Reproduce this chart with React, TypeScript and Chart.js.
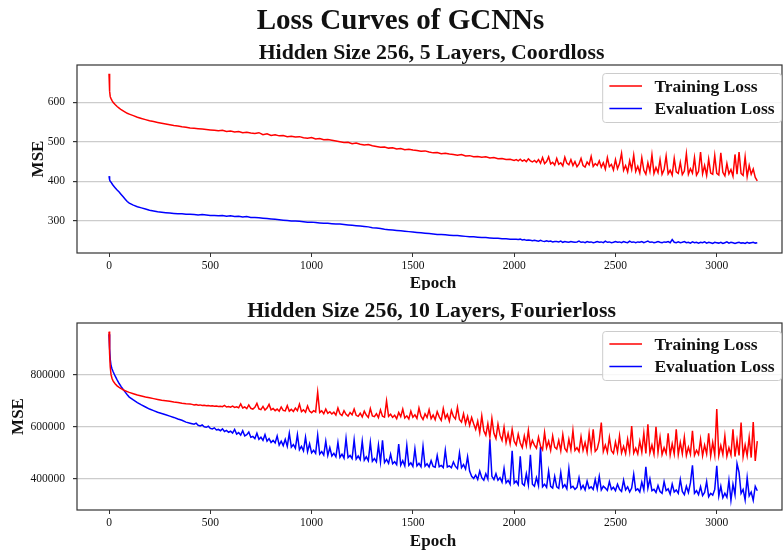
import React, { useEffect, useRef } from "react";
import { Chart, registerables } from "chart.js";

Chart.register(...registerables);

// Epochs at which the 5-layer run was logged
const coordEpochs = [
  0, 3, 6, 10, 15, 20, 30, 40, 50, 60, 70, 80, 90, 100,
  120, 140, 160, 180, 200, 220, 240, 260, 280, 300,
  320, 340, 360, 380, 400, 420, 440, 460, 480, 500,
  520, 540, 560, 580, 600, 620, 640, 660, 680, 700,
  720, 740, 760, 780, 800, 820, 840, 860, 880, 900,
  920, 940, 960, 980, 1000, 1020, 1040, 1060, 1080, 1100,
  1120, 1140, 1160, 1180, 1200, 1220, 1240, 1260, 1280, 1300,
  1320, 1340, 1360, 1380, 1400, 1420, 1440, 1460, 1480, 1500,
  1520, 1540, 1560, 1580, 1600, 1620, 1640, 1660, 1680, 1700,
  1720, 1740, 1760, 1780, 1800, 1820, 1840, 1860, 1880, 1900,
  1920, 1940, 1960, 1980, 2000,
  2010, 2020, 2030, 2040, 2050, 2060, 2070, 2080, 2090, 2100,
  2110, 2120, 2130, 2140, 2150, 2160, 2170, 2180, 2190, 2200,
  2210, 2220, 2230, 2240, 2250, 2260, 2270, 2280, 2290, 2300,
  2310, 2320, 2330, 2340, 2350, 2360, 2370, 2380, 2390, 2400,
  2410, 2420, 2430, 2440, 2450, 2460, 2470, 2480, 2490, 2500,
  2510, 2520, 2530, 2540, 2550, 2560, 2570, 2580, 2590, 2600,
  2610, 2620, 2630, 2640, 2650, 2660, 2670, 2680, 2690, 2700,
  2710, 2720, 2730, 2740, 2750, 2760, 2770, 2780, 2790, 2800,
  2810, 2820, 2830, 2840, 2850, 2860, 2870, 2880, 2890, 2900,
  2910, 2920, 2930, 2940, 2950, 2960, 2970, 2980, 2990, 3000,
  3010, 3020, 3030, 3040, 3050, 3060, 3070, 3080, 3090, 3100,
  3110, 3120, 3130, 3140, 3150, 3160, 3170, 3180, 3190, 3200,
];

// Hidden size 256, 5 layers, coordinate loss
const coordTrain = [
  672, 628, 614, 609, 604, 600, 594, 589, 585, 581, 578, 575, 572, 570,
  566, 562, 559, 556, 553, 551, 549, 547, 545, 543,
  541, 540, 538, 537, 535, 534, 533, 532, 531, 530,
  529, 528, 529, 526, 527, 525, 526, 523, 524, 522,
  521, 523, 518, 520, 516, 518, 515, 516, 513, 514,
  512, 513, 510, 509, 511, 507, 508, 505, 506, 504,
  502, 500, 498, 499, 495, 497, 494, 492, 493, 490,
  488, 486, 487, 484, 485, 482, 483, 480, 481, 479,
  478, 476, 477, 474, 472, 473, 470, 471, 469, 468,
  466, 468, 464, 465, 462, 463, 461, 462, 459, 460,
  457, 458, 455, 456, 453,
  455, 452, 456, 451, 454, 450, 457, 452, 449, 453,
  448, 455, 446, 460, 445, 450, 462, 444, 448, 441,
  458, 443, 447, 439, 461, 446, 442, 455, 440, 450,
  437, 444, 458, 440, 436, 449, 442, 463, 438, 445,
  440, 452, 436, 447, 431, 460, 437, 443, 429, 455,
  432, 445, 471, 428, 440, 424, 452, 430, 466, 425,
  438, 421, 460, 428, 418, 447, 425, 467, 420, 435,
  422, 455, 418, 430, 464, 419, 428, 416, 458, 424,
  420, 448, 417, 426, 470, 418, 432, 421, 460, 416,
  425, 474, 419, 440, 415, 456, 421, 418, 465, 420,
  416, 472, 423, 414, 445, 419, 430, 413, 468, 418,
  474, 420, 415, 462, 412, 440, 418, 431, 410, 401,
];
const coordEval = [
  413, 404, 400, 398, 394, 390, 384, 378, 373, 367, 361, 355, 349, 345,
  340, 336, 333, 330, 327, 325, 323, 322, 321, 320,
  319, 318, 318, 317, 317, 316, 315, 316, 315, 314,
  314, 313, 314, 312, 313, 311, 312, 310, 311, 309,
  309, 308, 307, 306, 305, 304, 303, 302, 301, 300,
  300, 299, 298, 297, 297, 296, 295, 294, 294, 293,
  292, 292, 291, 290, 289, 288, 287, 286, 285, 283,
  282, 281, 279, 278, 277, 276, 275, 274, 273, 272,
  271, 270, 269, 268, 267, 266, 266, 265, 264, 263,
  263, 262, 261, 260, 260, 259, 258, 258, 257, 256,
  256, 255, 255, 254, 254,
  254, 253, 254, 252, 253, 251, 252, 251, 250, 251,
  250, 249, 251, 249, 248, 250, 248, 249, 247, 248,
  248, 247, 249, 246, 248, 247, 246, 248, 247, 246,
  247, 249, 246, 247, 245, 248, 246, 247, 245, 246,
  248, 246, 247, 245, 249, 246, 247, 245, 246, 248,
  246, 247, 245, 248, 246, 245, 249, 246, 247, 245,
  247, 246, 248, 245, 247, 249, 246, 247, 245, 246,
  248, 246, 245, 247, 246, 248, 245, 253, 246, 245,
  247, 245, 246, 248, 245, 246, 244, 247, 245, 246,
  244, 246, 245, 247, 244, 246, 245, 243, 246, 245,
  244, 246, 243, 245, 247, 244, 246, 245, 243, 245,
  246, 244, 245, 243, 246, 244, 245, 246, 244, 245,
];

// Epochs at which the 10-layer run was logged
const fourierEpochs = [
  0, 3, 6, 10, 15, 20, 30, 40, 50, 60, 70, 80, 90, 100,
  120, 140, 160, 180, 200, 220, 240, 260, 280, 300, 320, 340, 360, 380, 400,
  410, 420, 430, 440, 450, 460, 470, 480, 490, 500,
  510, 520, 530, 540, 550, 560, 570, 580, 590, 600,
  610, 620, 630, 640, 650, 660, 670, 680, 690, 700,
  710, 720, 730, 740, 750, 760, 770, 780, 790, 800,
  810, 820, 830, 840, 850, 860, 870, 880, 890, 900,
  910, 920, 930, 940, 950, 960, 970, 980, 990, 1000,
  1010, 1020, 1030, 1040, 1050, 1060, 1070, 1080, 1090, 1100,
  1110, 1120, 1130, 1140, 1150, 1160, 1170, 1180, 1190, 1200,
  1210, 1220, 1230, 1240, 1250, 1260, 1270, 1280, 1290, 1300,
  1310, 1320, 1330, 1340, 1350, 1360, 1370, 1380, 1390, 1400,
  1410, 1420, 1430, 1440, 1450, 1460, 1470, 1480, 1490, 1500,
  1510, 1520, 1530, 1540, 1550, 1560, 1570, 1580, 1590, 1600,
  1610, 1620, 1630, 1640, 1650, 1660, 1670, 1680, 1690, 1700,
  1710, 1720, 1730, 1740, 1750, 1760, 1770, 1780, 1790, 1800,
  1810, 1820, 1830, 1840, 1850, 1860, 1870, 1880, 1890, 1900,
  1910, 1920, 1930, 1940, 1950, 1960, 1970, 1980, 1990, 2000,
  2010, 2020, 2030, 2040, 2050, 2060, 2070, 2080, 2090, 2100,
  2110, 2120, 2130, 2140, 2150, 2160, 2170, 2180, 2190, 2200,
  2210, 2220, 2230, 2240, 2250, 2260, 2270, 2280, 2290, 2300,
  2310, 2320, 2330, 2340, 2350, 2360, 2370, 2380, 2390, 2400,
  2410, 2420, 2430, 2440, 2450, 2460, 2470, 2480, 2490, 2500,
  2510, 2520, 2530, 2540, 2550, 2560, 2570, 2580, 2590, 2600,
  2610, 2620, 2630, 2640, 2650, 2660, 2670, 2680, 2690, 2700,
  2710, 2720, 2730, 2740, 2750, 2760, 2770, 2780, 2790, 2800,
  2810, 2820, 2830, 2840, 2850, 2860, 2870, 2880, 2890, 2900,
  2910, 2920, 2930, 2940, 2950, 2960, 2970, 2980, 2990, 3000,
  3010, 3020, 3030, 3040, 3050, 3060, 3070, 3080, 3090, 3100,
  3110, 3120, 3130, 3140, 3150, 3160, 3170, 3180, 3190, 3200,
];

// Hidden size 256, 10 layers, Fourier loss
const fourierTrain = [
  965e3, 880e3, 830e3, 800e3, 785e3, 776e3, 765e3, 757e3, 751e3, 746e3, 742e3, 738e3, 735e3, 732e3,
  727e3, 722e3, 718e3, 714e3, 711e3, 708e3, 705e3, 702e3, 700e3, 698e3, 695e3, 693e3, 690e3, 688e3, 687e3,
  686e3, 684e3, 685e3, 683e3, 684e3, 682e3, 683e3, 681e3, 682e3, 680e3,
  681e3, 679e3, 680e3, 678e3, 679e3, 677e3, 682e3, 676e3, 678e3, 675e3,
  679e3, 674e3, 677e3, 673e3, 688e3, 672e3, 676e3, 670e3, 684e3, 671e3,
  668e3, 675e3, 690e3, 669e3, 666e3, 678e3, 664e3, 672e3, 686e3, 665e3,
  670e3, 662e3, 668e3, 660e3, 676e3, 663e3, 661e3, 681e3, 660e3, 667e3,
  659e3, 672e3, 662e3, 687e3, 658e3, 665e3, 656e3, 680e3, 660e3, 654e3,
  662e3, 657e3, 733e3, 655e3, 661e3, 650e3, 668e3, 652e3, 658e3, 649e3,
  656e3, 645e3, 672e3, 650e3, 643e3, 662e3, 648e3, 641e3, 655e3, 646e3,
  668e3, 644e3, 640e3, 652e3, 638e3, 660e3, 645e3, 636e3, 670e3, 642e3,
  639e3, 650e3, 635e3, 665e3, 641e3, 637e3, 699e3, 640e3, 648e3, 636e3,
  644e3, 631e3, 655e3, 639e3, 668e3, 634e3, 642e3, 630e3, 660e3, 637e3,
  646e3, 632e3, 672e3, 641e3, 628e3, 650e3, 636e3, 666e3, 631e3, 645e3,
  627e3, 658e3, 638e3, 625e3, 670e3, 633e3, 648e3, 622e3, 663e3, 640e3,
  630e3, 675e3, 628e3, 618e3, 650e3, 612e3, 640e3, 606e3, 636e3, 612e3,
  590e3, 622e3, 578e3, 642e3, 585e3, 568e3, 612e3, 560e3, 632e3, 575e3,
  555e3, 610e3, 568e3, 548e3, 598e3, 540e3, 575e3, 535e3, 590e3, 545e3,
  530e3, 572e3, 538e3, 520e3, 565e3, 528e3, 586e3, 523e3, 548e3, 530e3,
  518e3, 560e3, 526e3, 512e3, 578e3, 520e3, 545e3, 510e3, 565e3, 522e3,
  515e3, 548e3, 508e3, 570e3, 517e3, 505e3, 552e3, 512e3, 586e3, 509e3,
  520e3, 505e3, 562e3, 510e3, 540e3, 503e3, 575e3, 512e3, 590e3, 506e3,
  515e3, 548e3, 616e3, 505e3, 530e3, 502e3, 560e3, 508e3, 498e3, 542e3,
  504e3, 565e3, 500e3, 525e3, 497e3, 552e3, 505e3, 603e3, 499e3, 518e3,
  496e3, 545e3, 503e3, 575e3, 498e3, 610e3, 500e3, 530e3, 495e3, 600e3,
  502e3, 560e3, 494e3, 520e3, 498e3, 575e3, 492e3, 535e3, 496e3, 590e3,
  493e3, 540e3, 497e3, 560e3, 490e3, 522e3, 495e3, 585e3, 491e3, 510e3,
  494e3, 552e3, 489e3, 530e3, 496e3, 575e3, 488e3, 540e3, 492e3, 668e3,
  490e3, 528e3, 494e3, 565e3, 487e3, 520e3, 492e3, 590e3, 486e3, 548e3,
  490e3, 616e3, 485e3, 530e3, 489e3, 560e3, 482e3, 618e3, 469e3, 545e3,
];
const fourierEval = [
  955e3, 900e3, 860e3, 835e3, 822e3, 812e3, 795e3, 780e3, 766e3, 754e3, 743e3, 733e3, 723e3, 714e3,
  703e3, 693e3, 684e3, 676e3, 668e3, 662e3, 656e3, 651e3, 646e3, 641e3, 636e3, 630e3, 625e3, 618e3, 614e3,
  612e3, 610e3, 614e3, 606e3, 603e3, 607e3, 600e3, 598e3, 602e3, 594e3,
  592e3, 596e3, 588e3, 590e3, 585e3, 592e3, 582e3, 586e3, 579e3, 583e3,
  576e3, 590e3, 572e3, 578e3, 568e3, 585e3, 565e3, 570e3, 580e3, 560e3,
  563e3, 555e3, 575e3, 552e3, 560e3, 548e3, 570e3, 545e3, 555e3, 540e3,
  548e3, 538e3, 565e3, 530e3, 545e3, 528e3, 552e3, 525e3, 575e3, 522e3,
  532e3, 518e3, 570e3, 512e3, 525e3, 508e3, 560e3, 505e3, 535e3, 500e3,
  510e3, 498e3, 568e3, 495e3, 505e3, 492e3, 545e3, 490e3, 520e3, 488e3,
  498e3, 485e3, 540e3, 483e3, 495e3, 480e3, 555e3, 482e3, 490e3, 478e3,
  550e3, 476e3, 488e3, 474e3, 545e3, 472e3, 485e3, 470e3, 540e3, 468e3,
  478e3, 466e3, 530e3, 465e3, 548e3, 463e3, 475e3, 460e3, 495e3, 458e3,
  466e3, 455e3, 534e3, 453e3, 470e3, 450e3, 528e3, 452e3, 462e3, 448e3,
  515e3, 450e3, 460e3, 447e3, 525e3, 449e3, 458e3, 446e3, 470e3, 448e3,
  445e3, 490e3, 447e3, 452e3, 444e3, 510e3, 446e3, 450e3, 443e3, 465e3,
  448e3, 440e3, 500e3, 443e3, 455e3, 438e3, 485e3, 430e3, 410e3, 402e3,
  415e3, 398e3, 430e3, 405e3, 395e3, 420e3, 400e3, 552e3, 410e3, 398e3,
  420e3, 395e3, 405e3, 388e3, 440e3, 385e3, 395e3, 380e3, 508e3, 384e3,
  392e3, 378e3, 487e3, 382e3, 375e3, 420e3, 378e3, 493e3, 380e3, 372e3,
  405e3, 375e3, 522e3, 370e3, 380e3, 368e3, 430e3, 372e3, 365e3, 410e3,
  370e3, 364e3, 425e3, 368e3, 378e3, 362e3, 440e3, 366e3, 372e3, 360e3,
  368e3, 405e3, 362e3, 375e3, 358e3, 392e3, 364e3, 370e3, 360e3, 398e3,
  362e3, 410e3, 358e3, 372e3, 365e3, 356e3, 390e3, 360e3, 368e3, 355e3,
  380e3, 360e3, 352e3, 395e3, 358e3, 370e3, 350e3, 365e3, 418e3, 356e3,
  362e3, 350e3, 388e3, 358e3, 447e3, 365e3, 400e3, 355e3, 360e3, 348e3,
  375e3, 352e3, 345e3, 390e3, 355e3, 362e3, 342e3, 380e3, 350e3, 358e3,
  345e3, 398e3, 352e3, 340e3, 372e3, 348e3, 385e3, 452e3, 345e3, 355e3,
  340e3, 370e3, 336e3, 348e3, 390e3, 332e3, 345e3, 338e3, 360e3, 450e3,
  335e3, 372e3, 328e3, 345e3, 330e3, 395e3, 318e3, 380e3, 340e3, 459e3,
  425e3, 345e3, 360e3, 320e3, 405e3, 335e3, 350e3, 318e3, 372e3, 355e3,
];

const epochTicks = [0, 500, 1000, 1500, 2000, 2500, 3000];
const coordTicks = [300, 400, 500, 600];
const fourierTicks = [400000, 600000, 800000];

const seriesLabels = ["Training Loss", "Evaluation Loss"];
const seriesColors = ["#ff0000", "#0000ff"];

const FONT = "'Liberation Serif', 'Times New Roman', serif";
const INK = "#111";

type PanelSpec = {
  title: string;
  suptitle?: string;
  height: number;
  padTop: number;
  xAxisH: number;
  yMin: number;
  yMax: number;
  yTicks: number[];
  epochs: number[];
  train: number[];
  evalLoss: number[];
  titleBaseline: number;
  mseBaselineX: number;
  epochBaseline: number;
};

const panels: PanelSpec[] = [
  {
    title: "Hidden Size 256, 5 Layers, Coordloss",
    suptitle: "Loss Curves of GCNNs",
    height: 290,
    padTop: 65,
    xAxisH: 37,
    yMin: 219,
    yMax: 694,
    yTicks: coordTicks,
    epochs: coordEpochs,
    train: coordTrain,
    evalLoss: coordEval,
    titleBaseline: 58.5,
    mseBaselineX: 43.3,
    epochBaseline: 288,
  },
  {
    title: "Hidden Size 256, 10 Layers, Fourierloss",
    height: 261,
    padTop: 33,
    xAxisH: 41,
    yMin: 281000,
    yMax: 998000,
    yTicks: fourierTicks,
    epochs: fourierEpochs,
    train: fourierTrain,
    evalLoss: fourierEval,
    titleBaseline: 26.7,
    mseBaselineX: 23.3,
    epochBaseline: 256,
  },
];

function decorPlugin(p: PanelSpec) {
  return {
    id: "decor",
    afterDatasetsDraw(chart: any) {
      const { ctx, chartArea: a } = chart;
      ctx.save();
      // axes frame
      ctx.strokeStyle = "#333";
      ctx.lineWidth = 1.2;
      ctx.strokeRect(a.left, a.top, a.right - a.left, a.bottom - a.top);

      // legend box in the upper right corner
      ctx.font = `bold 17.5px ${FONT}`;
      const textW = Math.max(...seriesLabels.map((s) => ctx.measureText(s).width));
      const boxW = 51.7 + textW + 7;
      const boxH = 49;
      const boxRight = a.right - 0.5;
      const boxLeft = boxRight - boxW;
      const boxTop = a.top + 8.5;
      ctx.beginPath();
      ctx.roundRect(boxLeft, boxTop, boxW, boxH, 3);
      ctx.fillStyle = "rgba(255,255,255,0.85)";
      ctx.fill();
      ctx.strokeStyle = "#cccccc";
      ctx.lineWidth = 1;
      ctx.stroke();
      seriesLabels.forEach((label, i) => {
        const y = boxTop + 12.4 + i * 22.6;
        ctx.strokeStyle = seriesColors[i];
        ctx.lineWidth = 1.5;
        ctx.beginPath();
        ctx.moveTo(boxLeft + 6.7, y);
        ctx.lineTo(boxLeft + 39.3, y);
        ctx.stroke();
        ctx.fillStyle = INK;
        ctx.textAlign = "left";
        ctx.textBaseline = "alphabetic";
        ctx.fillText(label, boxLeft + 51.7, y + 5.6);
      });
      ctx.restore();
    },
    afterDraw(chart: any) {
      const { ctx, chartArea: a } = chart;
      const cx = (a.left + a.right) / 2 + 2;
      ctx.save();
      ctx.fillStyle = INK;
      ctx.textBaseline = "alphabetic";
      ctx.textAlign = "center";
      if (p.suptitle) {
        ctx.font = `bold 29px ${FONT}`;
        ctx.fillText(p.suptitle, 400.5, 29);
      }
      ctx.font = `bold 21.8px ${FONT}`;
      ctx.fillText(p.title, cx, p.titleBaseline);
      ctx.font = `bold 17px ${FONT}`;
      ctx.fillText("Epoch", cx + 1.5, p.epochBaseline);
      ctx.translate(p.mseBaselineX, (a.top + a.bottom) / 2);
      ctx.rotate(-Math.PI / 2);
      ctx.fillText("MSE", 0, 0);
      ctx.restore();
    },
  };
}

function Panel({ spec }: { spec: PanelSpec }) {
  const ref = useRef<HTMLCanvasElement | null>(null);
  useEffect(() => {
    if (!ref.current) return;
    const toPoints = (vals: number[]) => vals.map((v, i) => ({ x: spec.epochs[i], y: v }));
    const chart = new Chart(ref.current, {
      type: "line",
      data: {
        datasets: [
          {
            label: seriesLabels[0],
            data: toPoints(spec.train),
            borderColor: seriesColors[0],
            backgroundColor: seriesColors[0],
          },
          {
            label: seriesLabels[1],
            data: toPoints(spec.evalLoss),
            borderColor: seriesColors[1],
            backgroundColor: seriesColors[1],
          },
        ],
      },
      options: {
        responsive: false,
        animation: false,
        devicePixelRatio: 1,
        layout: { padding: { top: spec.padTop, right: 1, left: 0, bottom: 0 } },
        elements: {
          point: { radius: 0 },
          line: { borderWidth: 1.5, tension: 0 },
        },
        plugins: {
          legend: { display: false },
          title: { display: false },
          tooltip: { enabled: false },
        },
        scales: {
          x: {
            type: "linear",
            min: -158,
            max: 3322,
            afterBuildTicks: (s: any) => {
              s.ticks = epochTicks.map((v) => ({ value: v }));
            },
            afterFit: (s: any) => {
              s.height = spec.xAxisH;
            },
            border: { display: false },
            grid: { drawOnChartArea: false, drawTicks: true, tickLength: 4, tickColor: "#333" },
            ticks: {
              color: INK,
              padding: 2,
              maxRotation: 0,
              autoSkip: false,
              font: { family: FONT, size: 11.5 },
              callback: (v: any) => String(v),
            },
          },
          y: {
            type: "linear",
            min: spec.yMin,
            max: spec.yMax,
            afterBuildTicks: (s: any) => {
              s.ticks = spec.yTicks.map((v) => ({ value: v }));
            },
            afterFit: (s: any) => {
              s.width = 77;
            },
            border: { display: false },
            grid: {
              drawOnChartArea: true,
              drawTicks: true,
              tickLength: 4,
              color: "rgba(176,176,176,0.65)",
              lineWidth: 1.2,
              tickColor: "#333",
            },
            ticks: {
              color: INK,
              padding: 8,
              font: { family: FONT, size: 11.5 },
              callback: (v: any) => String(v),
            },
          },
        },
      },
      plugins: [decorPlugin(spec)],
    } as any);
    return () => chart.destroy();
  }, [spec]);
  return <canvas ref={ref} width={783} height={spec.height} style={{ display: "block" }} />;
}

export default function App() {
  return (
    <div
      style={{
        position: "absolute",
        left: 0,
        top: 0,
        width: 783,
        height: 551,
        background: "#fff",
      }}
    >
      {panels.map((p) => (
        <Panel key={p.title} spec={p} />
      ))}
    </div>
  );
}
